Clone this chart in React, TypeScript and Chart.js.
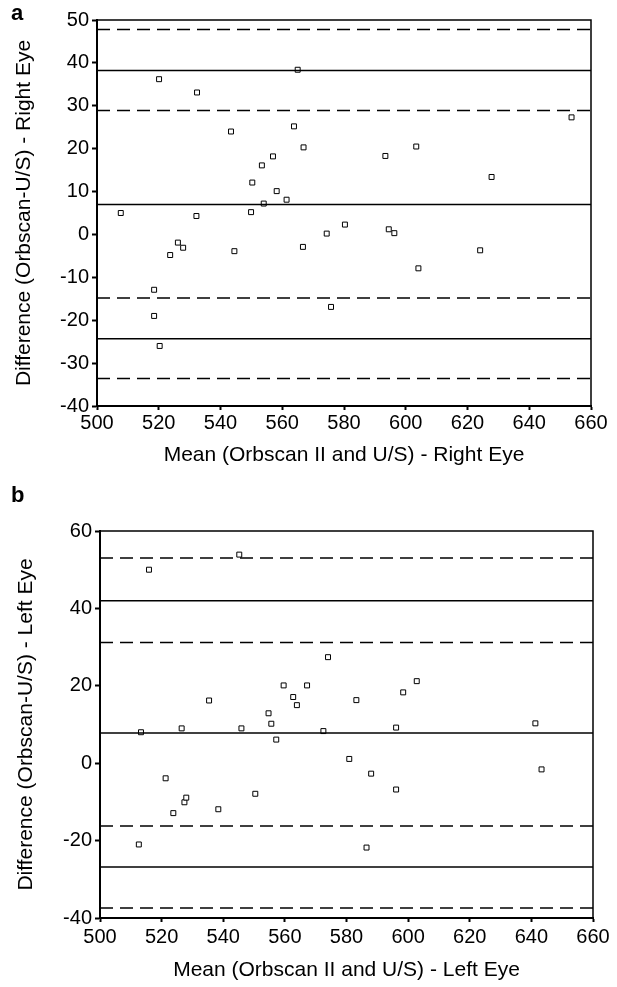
import React, { useEffect, useRef } from "react";
import { Chart, registerables } from "chart.js";
Chart.register(...registerables);

// ---------- data ----------
const xTickValues = [500, 520, 540, 560, 580, 600, 620, 640, 660];
const rightYTicks = [-40, -30, -20, -10, 0, 10, 20, 30, 40, 50];
const leftYTicks = [-40, -20, 0, 20, 40, 60];

const rightMean = [
  507.7, 520.1, 532.4, 543.4, 563.8, 566.9, 557.0, 553.4, 550.3, 558.2, 561.4, 554.0,
  565.0, 549.9, 532.2, 544.5, 523.7, 526.2, 527.9, 566.7, 518.5, 518.5, 520.3, 593.4,
  603.4, 627.8, 653.7, 574.4, 580.3, 594.5, 596.3, 604.1, 624.1, 575.8,
];
const rightDiff = [
  5.0, 36.2, 33.1, 24.0, 25.2, 20.3, 18.2, 16.1, 12.1, 10.1, 8.1, 7.2,
  38.4, 5.2, 4.3, -3.9, -4.8, -1.9, -3.1, -2.9, -12.9, -19.0, -26.0, 18.3,
  20.5, 13.4, 27.3, 0.2, 2.3, 1.2, 0.3, -7.9, -3.7, -16.9,
];

const leftMean = [
  515.9, 545.2, 535.4, 513.3, 526.5, 545.9, 554.7, 555.6, 557.2, 559.6, 562.7, 563.9,
  567.2, 574.0, 602.8, 598.4, 583.2, 572.5, 596.1, 641.3, 580.9, 588.0, 596.1, 643.3,
  586.5, 521.3, 523.8, 527.4, 528.0, 538.4, 550.4, 512.6,
];
const leftDiff = [
  50.0, 53.9, 16.2, 8.0, 9.0, 9.0, 12.9, 10.2, 6.1, 20.1, 17.1, 15.0,
  20.1, 27.4, 21.2, 18.3, 16.3, 8.3, 9.2, 10.3, 1.1, -2.7, -6.8, -1.6,
  -21.8, -3.9, -12.9, -10.1, -8.9, -11.9, -7.9, -21.0,
];

// horizontal reference lines (mean difference and limits of agreement; dashed = their CIs)
const rightSolid = [38.2, 7.0, -24.3];
const rightDashed = [47.8, 28.9, -14.8, -33.6];
const leftSolid = [42.0, 7.8, -26.8];
const leftDashed = [53.0, 31.2, -16.2, -37.4];

const FONT = "'Liberation Sans', Arial, Helvetica, sans-serif";

const framePlugin = {
  id: "frame",
  afterDatasetsDraw(chart: any) {
    const { ctx, chartArea: a } = chart;
    ctx.save();
    ctx.strokeStyle = "#000";
    ctx.lineWidth = 1.5;
    ctx.beginPath();
    ctx.moveTo(a.left, a.top);
    ctx.lineTo(a.right, a.top);
    ctx.lineTo(a.right, a.bottom);
    ctx.stroke();
    ctx.restore();
  },
};

type PanelOpts = {
  means: number[];
  diffs: number[];
  solid: number[];
  dashed: number[];
  yTicks: number[];
  xTitle: string;
  yTitle: string;
  padding: { left: number; right: number; top: number; bottom: number };
  yWidth: number;
  xHeight: number;
  xTickPad: number;
};

function makeConfig(o: PanelOpts): any {
  const xMin = xTickValues[0];
  const xMax = xTickValues[xTickValues.length - 1];
  const lineDs = (v: number, dashed: boolean) => ({
    data: [
      { x: xMin, y: v },
      { x: xMax, y: v },
    ],
    showLine: true,
    borderColor: "#000",
    borderWidth: 1.5,
    borderDash: dashed ? [13, 7] : [],
    pointRadius: 0,
    pointHoverRadius: 0,
  });
  return {
    type: "scatter",
    data: {
      datasets: [
        ...o.solid.map((v) => lineDs(v, false)),
        ...o.dashed.map((v) => lineDs(v, true)),
        {
          data: o.means.map((m, i) => ({ x: m, y: o.diffs[i] })),
          pointStyle: "rect",
          pointRadius: 3.5,
          pointBorderWidth: 1,
          pointBorderColor: "#000",
          pointBackgroundColor: "#fff",
          showLine: false,
        },
      ],
    },
    options: {
      responsive: false,
      animation: false,
      events: [],
      layout: { padding: o.padding },
      plugins: { legend: { display: false }, tooltip: { enabled: false } },
      scales: {
        x: {
          type: "linear",
          min: xMin,
          max: xMax,
          afterBuildTicks: (s: any) => {
            s.ticks = xTickValues.map((v) => ({ value: v }));
          },
          afterFit: (s: any) => {
            s.height = o.xHeight;
          },
          ticks: {
            color: "#000",
            font: { family: FONT, size: 20 },
            padding: o.xTickPad,
            maxRotation: 0,
            autoSkip: false,
          },
          grid: {
            drawOnChartArea: false,
            drawTicks: true,
            tickLength: 4,
            tickWidth: 2,
            tickColor: "#000",
          },
          border: { display: true, color: "#000", width: 2 },
          title: {
            display: true,
            text: o.xTitle,
            color: "#000",
            font: { family: FONT, size: 21 },
          },
        },
        y: {
          type: "linear",
          min: o.yTicks[0],
          max: o.yTicks[o.yTicks.length - 1],
          afterBuildTicks: (s: any) => {
            s.ticks = o.yTicks.map((v) => ({ value: v }));
          },
          afterFit: (s: any) => {
            s.width = o.yWidth;
          },
          ticks: {
            color: "#000",
            font: { family: FONT, size: 20 },
            padding: 3,
            autoSkip: false,
          },
          grid: {
            drawOnChartArea: false,
            drawTicks: true,
            tickLength: 5,
            tickWidth: 2,
            tickColor: "#000",
          },
          border: { display: true, color: "#000", width: 2 },
          title: {
            display: true,
            text: o.yTitle,
            color: "#000",
            font: { family: FONT, size: 21 },
          },
        },
      },
    },
    plugins: [framePlugin],
  };
}

function Panel({ opts, width, height }: { opts: PanelOpts; width: number; height: number }) {
  const ref = useRef<HTMLCanvasElement | null>(null);
  useEffect(() => {
    if (!ref.current) return;
    const chart = new Chart(ref.current, makeConfig(opts));
    return () => chart.destroy();
  }, []);
  return <canvas ref={ref} width={width} height={height} style={{ display: "block", width, height }} />;
}

const panelA: PanelOpts = {
  means: rightMean,
  diffs: rightDiff,
  solid: rightSolid,
  dashed: rightDashed,
  yTicks: rightYTicks,
  xTitle: "Mean (Orbscan II and U/S) - Right Eye",
  yTitle: "Difference (Orbscan-U/S) - Right Eye",
  padding: { left: 7.5, right: 26, top: 20, bottom: 8 },
  yWidth: 89.5,
  xHeight: 66,
  xTickPad: 1,
};

const panelB: PanelOpts = {
  means: leftMean,
  diffs: leftDiff,
  solid: leftSolid,
  dashed: leftDashed,
  yTicks: leftYTicks,
  xTitle: "Mean (Orbscan II and U/S) - Left Eye",
  yTitle: "Difference (Orbscan-U/S) - Left Eye",
  padding: { left: 10, right: 24, top: 51, bottom: 0 },
  yWidth: 90,
  xHeight: 69,
  xTickPad: 3,
};

export default function App() {
  const letter: React.CSSProperties = {
    position: "absolute",
    fontFamily: FONT,
    fontWeight: "bold",
    fontSize: 22,
    lineHeight: "22px",
    color: "#000",
  };
  return (
    <div
      style={{
        position: "absolute",
        left: 0,
        top: 0,
        width: 617,
        height: 987,
        overflow: "hidden",
        background: "#fff",
      }}
    >
      <div style={{ position: "absolute", left: 0, top: 0 }}>
        <Panel opts={panelA} width={617} height={480} />
      </div>
      <div style={{ position: "absolute", left: 0, top: 480 }}>
        <Panel opts={panelB} width={617} height={507} />
      </div>
      <div style={{ ...letter, left: 11, top: 2 }}>a</div>
      <div style={{ ...letter, left: 11, top: 484 }}>b</div>
    </div>
  );
}
